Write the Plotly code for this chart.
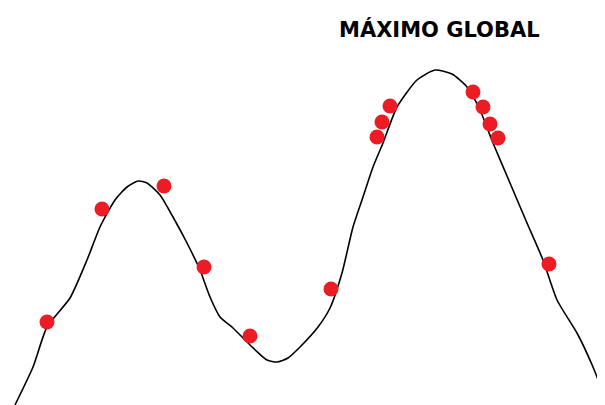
import plotly.graph_objects as go

# curve (x in px from left, y as height from bottom)
curve_x = [15, 33, 47, 70, 87, 100, 115, 127, 138, 147, 160, 173, 187, 200, 210, 220, 233, 250,
           267, 277, 288, 300, 318, 330, 342, 353, 363, 373, 383, 397, 417, 435, 452, 467, 480,
           493, 510, 527, 543, 557, 577, 593, 605]
curve_y = [0, 38, 78, 107, 145, 178, 205, 218, 224, 222, 210, 188, 162, 135, 108, 88, 77, 60,
           45, 43, 47, 58, 78, 97, 132, 178, 208, 238, 262, 298, 325, 335, 331, 318, 295,
           262, 222, 182, 145, 105, 72, 38, 7]

# red sample points
pts_x = [47, 102, 164, 204, 250, 331, 377, 382, 390, 473, 483, 490, 498, 549]
pts_y = [83, 196, 219, 138, 69, 116, 268, 283, 299, 313, 298, 281, 267, 141]

label = "MÁXIMO GLOBAL"

fig = go.Figure()

fig.add_trace(go.Scatter(
    x=curve_x, y=curve_y, mode="lines",
    line=dict(color="black", width=1.6, shape="spline", smoothing=0.6),
    hoverinfo="skip", cliponaxis=False))

fig.add_trace(go.Scatter(
    x=pts_x, y=pts_y, mode="markers",
    marker=dict(color="#ED1C24", size=15, line=dict(width=0))))

fig.add_annotation(
    x=439, y=376, text="<b>" + label + "</b>", showarrow=False,
    font=dict(family="DejaVu Sans", size=21, color="black"),
    xanchor="center", yanchor="middle")

# the page body has an 8px margin, so the ranges are shifted to compensate
fig.update_layout(
    width=605, height=405,
    margin=dict(l=0, r=0, t=0, b=0),
    showlegend=False,
    plot_bgcolor="white", paper_bgcolor="white",
    xaxis=dict(range=[8, 613], visible=False, fixedrange=True),
    yaxis=dict(range=[-8, 397], visible=False, fixedrange=True),
)

fig.write_html("out.html")
